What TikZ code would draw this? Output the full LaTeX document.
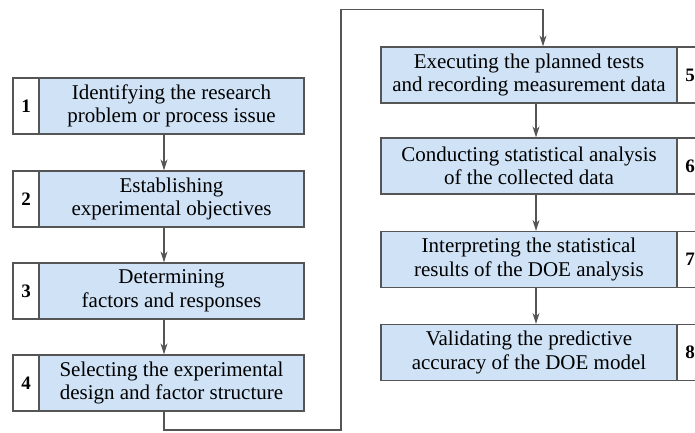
\documentclass[tikz,border=0pt]{standalone}
\usepackage{fontspec}
\setmainfont{Liberation Serif}
\usepackage{xcolor}
\usetikzlibrary{arrows.meta}

\definecolor{boxblue}{RGB}{207,226,246}
\definecolor{edgegray}{RGB}{85,85,85}

\begin{document}
\begin{tikzpicture}[x=1pt,y=-1pt,
  stepbox/.style={draw=edgegray,line width=1.3pt,fill=boxblue,minimum height=56pt,inner sep=0pt,align=center,font=\fontsize{21}{23.5}\selectfont},
  numbox/.style={draw=edgegray,line width=1.3pt,fill=white,minimum width=26pt,minimum height=56pt,inner sep=0pt,font=\fontsize{19}{19}\selectfont\bfseries},
  arr/.style={-{Stealth[length=11pt,width=7pt]},line width=1.2pt,draw=edgegray}]

\useasboundingbox (0,0) rectangle (695,433);
\clip (0,0) rectangle (695,433);

% left column
\node[stepbox,minimum width=265pt] (s1) at (171.5,106) {Identifying the research\\problem or process issue};
\node[stepbox,minimum width=265pt] (s2) at (171.5,199) {Establishing\\experimental objectives};
\node[stepbox,minimum width=265pt] (s3) at (171.5,291) {Determining\\factors and responses};
\node[stepbox,minimum width=265pt] (s4) at (171.5,383) {Selecting the experimental\\design and factor structure};
\node[numbox] (n1) at (26,106) {1};
\node[numbox] (n2) at (26,199) {2};
\node[numbox] (n3) at (26,291) {3};
\node[numbox] (n4) at (26,383) {4};

% right column
\node[stepbox,minimum width=296pt] (s5) at (529,75) {Executing the planned tests\\and recording measurement data};
\node[stepbox,minimum width=296pt] (s6) at (529,166) {Conducting statistical analysis\\of the collected data};
\node[stepbox,minimum width=296pt] (s7) at (529,259.5) {Interpreting the statistical\\results of the DOE analysis};
\node[stepbox,minimum width=296pt] (s8) at (529,352.5) {Validating the predictive\\accuracy of the DOE model};
\node[numbox] (n5) at (690,75) {5};
\node[numbox] (n6) at (690,166) {6};
\node[numbox] (n7) at (690,259.5) {7};
\node[numbox] (n8) at (690,352.5) {8};

% arrows
\draw[arr] ([xshift=-7.5pt]s1.south) -- ([xshift=-7.5pt]s2.north);
\draw[arr] ([xshift=-7.5pt]s2.south) -- ([xshift=-7.5pt]s3.north);
\draw[arr] ([xshift=-7.5pt]s3.south) -- ([xshift=-7.5pt]s4.north);
\draw[arr] ([xshift=7pt]s5.south) -- ([xshift=7pt]s6.north);
\draw[arr] ([xshift=7pt]s6.south) -- ([xshift=7pt]s7.north);
\draw[arr] ([xshift=7pt]s7.south) -- ([xshift=7pt]s8.north);

% link from 4 to 5
\coordinate (low) at (341,430);
\coordinate (high) at (341,9.5);
\draw[arr] ([xshift=-7.5pt]s4.south) |- (low) -- (high) -| ([xshift=14pt]s5.north);
\end{tikzpicture}
\end{document}
